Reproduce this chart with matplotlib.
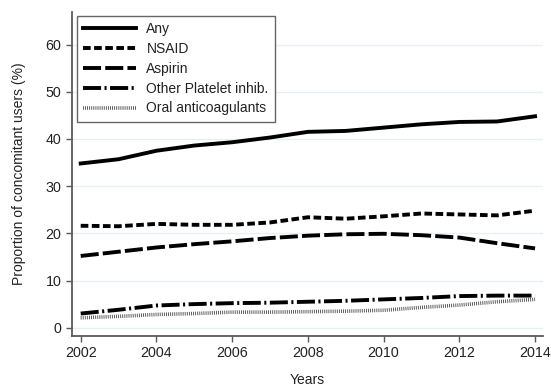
import matplotlib
matplotlib.use("Agg")
import matplotlib.pyplot as plt

plt.rcParams['font.family'] = ['Liberation Sans', 'DejaVu Sans']
plt.rcParams['lines.scale_dashes'] = False

years = list(range(2002, 2015))
any_use = [34.8, 35.7, 37.5, 38.6, 39.3, 40.3, 41.5, 41.7, 42.4, 43.1, 43.6, 43.7, 44.8]
nsaid = [21.6, 21.5, 22.0, 21.8, 21.8, 22.3, 23.4, 23.1, 23.6, 24.2, 24.0, 23.8, 24.8]
aspirin = [15.2, 16.1, 17.0, 17.7, 18.3, 19.0, 19.5, 19.8, 19.9, 19.6, 19.1, 17.9, 16.8]
other_plt = [3.0, 3.8, 4.7, 5.0, 5.2, 5.3, 5.5, 5.7, 6.0, 6.3, 6.7, 6.8, 6.8]
oral_ac = [2.1, 2.4, 2.8, 3.0, 3.3, 3.3, 3.4, 3.5, 3.7, 4.3, 4.8, 5.5, 6.0]

fig = plt.figure(figsize=(5.51, 3.87), dpi=100)
ax = fig.add_axes([72/551, 1 - 336/387, 471/551, 324/387])

ax.plot(years, any_use, color='black', lw=2.8, label='Any')
ax.plot(years, nsaid, color='black', lw=2.8, ls=(0, (5.5, 2.5)), label='NSAID')
ax.plot(years, aspirin, color='black', lw=2.8, ls=(0, (13, 3)), label='Aspirin')
ax.plot(years, other_plt, color='black', lw=2.8, ls=(0, (13, 2.5, 1.5, 2.5)),
        label='Other Platelet inhib.')
ax.plot(years, oral_ac, color='#444444', lw=2.6, ls=(0, (0.6, 0.9)),
        label='Oral anticoagulants')

ax.set_xlim(2001.77, 2014.21)
ax.set_ylim(-1.76, 66.9)
ax.set_xticks(range(2002, 2015, 2))
ax.set_yticks(range(0, 61, 10))
ax.grid(axis='y', color='#e6eff1', lw=0.9)
ax.set_axisbelow(True)

for s in ['top', 'right']:
    ax.spines[s].set_visible(False)
for s in ['left', 'bottom']:
    ax.spines[s].set_color('#5a5a5a')
    ax.spines[s].set_linewidth(1.3)
ax.tick_params(colors='#5a5a5a', labelcolor='#222222', labelsize=10.3, length=4, width=1)

ax.set_xlabel('Years', fontsize=10, color='#222222', labelpad=9)
ax.set_ylabel('Proportion of concomitant users (%)', fontsize=10, color='#222222', labelpad=14)

leg = ax.legend(loc='upper left', bbox_to_anchor=(0.0106, 0.988), borderaxespad=0,
                fontsize=10, handlelength=3.8, labelspacing=0.42, fancybox=False,
                framealpha=1, edgecolor='#666666', borderpad=0.45, handletextpad=0.75)
leg.get_frame().set_linewidth(1.0)
for t in leg.get_texts():
    t.set_color('#222222')

fig.savefig('out.png', dpi=100)
